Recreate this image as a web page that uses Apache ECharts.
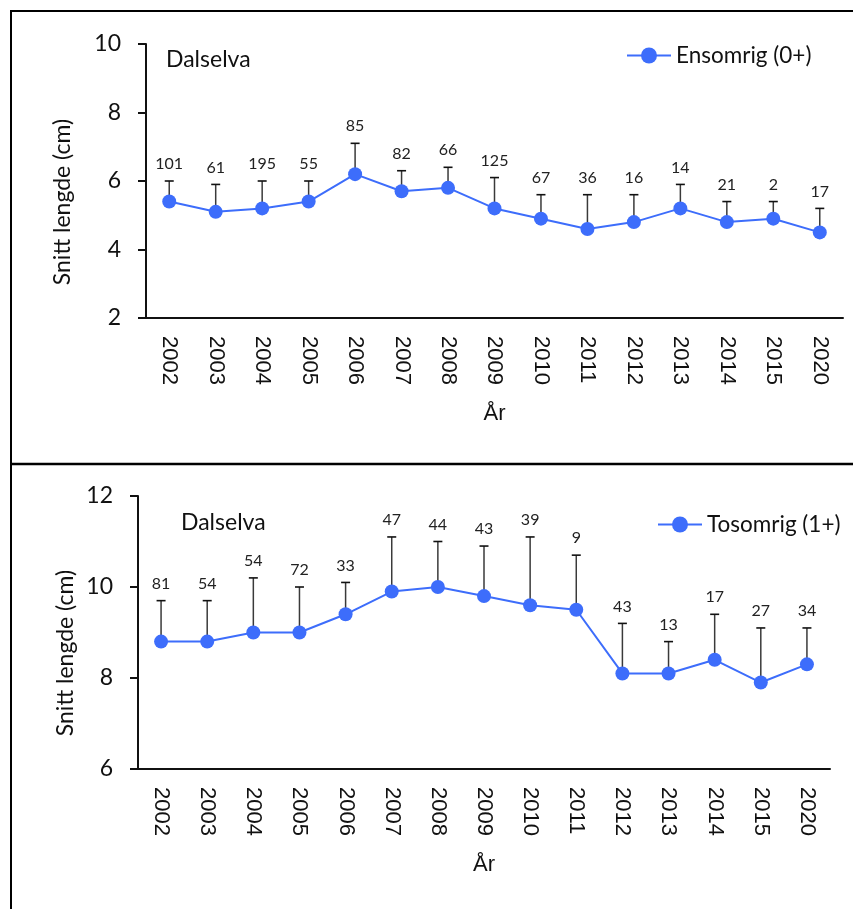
<!DOCTYPE html>
<html>
<head>
<meta charset="utf-8">
<title>Dalselva – snitt lengde</title>
<script src="https://cdn.jsdelivr.net/npm/echarts@6/dist/echarts.min.js"></script>
<style>
  html, body { margin: 0; padding: 0; background: #fff; }
  #chart { width: 853px; height: 909px; }
</style>
</head>
<body>
<div id="chart"></div>
<script>
// Years sampled
const years = ['2002','2003','2004','2005','2006','2007','2008','2009','2010','2011','2012','2013','2014','2015','2020'];

// Ensomrig (0+): mean length, top of error bar, number of fish
const mean0  = [5.4, 5.1, 5.2, 5.4, 6.2, 5.7, 5.8, 5.2, 4.9, 4.6, 4.8, 5.2, 4.8, 4.9, 4.5];
const upper0 = [6.0, 5.9, 6.0, 6.0, 7.1, 6.3, 6.4, 6.1, 5.6, 5.6, 5.6, 5.9, 5.4, 5.4, 5.2];
const n0     = [101, 61, 195, 55, 85, 82, 66, 125, 67, 36, 16, 14, 21, 2, 17];

// Tosomrig (1+): mean length, top of error bar, number of fish
const mean1  = [8.8, 8.8, 9.0, 9.0, 9.4, 9.9, 10.0, 9.8, 9.6, 9.5, 8.1, 8.1, 8.4, 7.9, 8.3];
const upper1 = [9.7, 9.7, 10.2, 10.0, 10.1, 11.1, 11.0, 10.9, 11.1, 10.7, 9.2, 8.8, 9.4, 9.1, 9.1];
const n1     = [81, 54, 54, 72, 33, 47, 44, 43, 39, 9, 43, 13, 17, 27, 34];

const series0Name = 'Ensomrig (0+)';
const series1Name = 'Tosomrig (1+)';
const siteName = 'Dalselva';
const yTitle = 'Snitt lengde (cm)';

const BLUE = '#3d6dfb';
const numFont = 'Lato';
const yearFont = 'Liberation Sans';

// Upward-only error bar with the sample size written above the cap
function errorBar(params, api) {
  const p = api.coord([api.value(0), api.value(1)]);
  const t = api.coord([api.value(0), api.value(2)]);
  return {
    type: 'group',
    children: [
      { type: 'line', shape: { x1: p[0], y1: p[1], x2: p[0], y2: t[1] },
        style: { stroke: '#3a3a3a', lineWidth: 1.5 } },
      { type: 'line', shape: { x1: p[0] - 4.5, y1: t[1], x2: p[0] + 4.5, y2: t[1] },
        style: { stroke: '#111', lineWidth: 1.6 } },
      { type: 'text', x: p[0], y: t[1] - 9,
        style: { text: String(api.value(3)), textAlign: 'center', textVerticalAlign: 'bottom',
                 fontSize: 16, fontFamily: numFont, fill: '#222' } }
    ]
  };
}

function xAxisFor(gridIndex) {
  return {
    type: 'category', gridIndex, data: years, boundaryGap: true,
    name: 'År', nameLocation: 'middle', nameGap: 85,
    nameTextStyle: { fontSize: 22, fontFamily: yearFont, color: '#111' },
    axisLine: { lineStyle: { color: '#111', width: 2 } },
    axisTick: { alignWithLabel: false, length: 8, lineStyle: { color: '#111', width: 2 } },
    axisLabel: { rotate: -90, margin: 18, fontSize: 22, fontFamily: yearFont, color: '#111',
                 interval: 0 }
  };
}

function yAxisFor(gridIndex, min, max) {
  return {
    type: 'value', gridIndex, min, max, interval: 2,
    axisLine: { show: true, lineStyle: { color: '#111', width: 2 } },
    axisTick: { show: true, length: 8, lineStyle: { color: '#111', width: 2 } },
    axisLabel: { margin: 25, fontSize: 23, fontFamily: numFont, color: '#111' },
    splitLine: { show: false }
  };
}

// Rotated y-axis title, centred on the given point
function yTitleText(cx, cy) {
  return { type: 'text', x: cx, y: cy, rotation: Math.PI / 2,
           style: { text: yTitle, textAlign: 'center', textVerticalAlign: 'middle',
                    fontSize: 23, fontFamily: numFont, fill: '#111' } };
}

const chart = echarts.init(document.getElementById('chart'), null, { renderer: 'canvas' });

chart.setOption({
  animation: false,
  backgroundColor: '#fff',
  title: [
    { text: siteName, left: 161, top: 43,
      textStyle: { fontSize: 23, fontWeight: 'normal', fontFamily: numFont, color: '#111' } },
    { text: siteName, left: 176, top: 506,
      textStyle: { fontSize: 23, fontWeight: 'normal', fontFamily: numFont, color: '#111' } }
  ],
  legend: [
    { data: [series0Name], left: 621, top: 39, itemWidth: 44, itemHeight: 20, itemGap: 5,
      textStyle: { fontSize: 22.5, fontFamily: numFont, color: '#111' } },
    { data: [series1Name], left: 652, top: 508, itemWidth: 44, itemHeight: 20, itemGap: 5,
      textStyle: { fontSize: 22.5, fontFamily: numFont, color: '#111' } }
  ],
  grid: [
    { left: 146, top: 44, width: 697, height: 274 },
    { left: 138, top: 496, width: 692, height: 273 }
  ],
  xAxis: [xAxisFor(0), xAxisFor(1)],
  yAxis: [yAxisFor(0, 2, 10), yAxisFor(1, 6, 12)],
  series: [
    { type: 'custom', xAxisIndex: 0, yAxisIndex: 0, z: 1, renderItem: errorBar,
      data: years.map((_, i) => [i, mean0[i], upper0[i], n0[i]]) },
    { type: 'custom', xAxisIndex: 1, yAxisIndex: 1, z: 1, renderItem: errorBar,
      data: years.map((_, i) => [i, mean1[i], upper1[i], n1[i]]) },
    { name: series0Name, type: 'line', xAxisIndex: 0, yAxisIndex: 0, z: 3,
      data: mean0, symbol: 'circle', symbolSize: 14,
      lineStyle: { color: BLUE, width: 2 }, itemStyle: { color: BLUE } },
    { name: series1Name, type: 'line', xAxisIndex: 1, yAxisIndex: 1, z: 3,
      data: mean1, symbol: 'circle', symbolSize: 14,
      lineStyle: { color: BLUE, width: 2 }, itemStyle: { color: BLUE } }
  ],
  graphic: [
    yTitleText(63, 202),
    yTitleText(66, 653),
    // panel frames
    { type: 'polyline', shape: { points: [[11, 909], [11, 11], [853, 11]] },
      style: { stroke: '#000', lineWidth: 2, fill: null } },
    { type: 'line', shape: { x1: 11, y1: 464, x2: 853, y2: 464 },
      style: { stroke: '#000', lineWidth: 2.5 } }
  ]
});
</script>
</body>
</html>
